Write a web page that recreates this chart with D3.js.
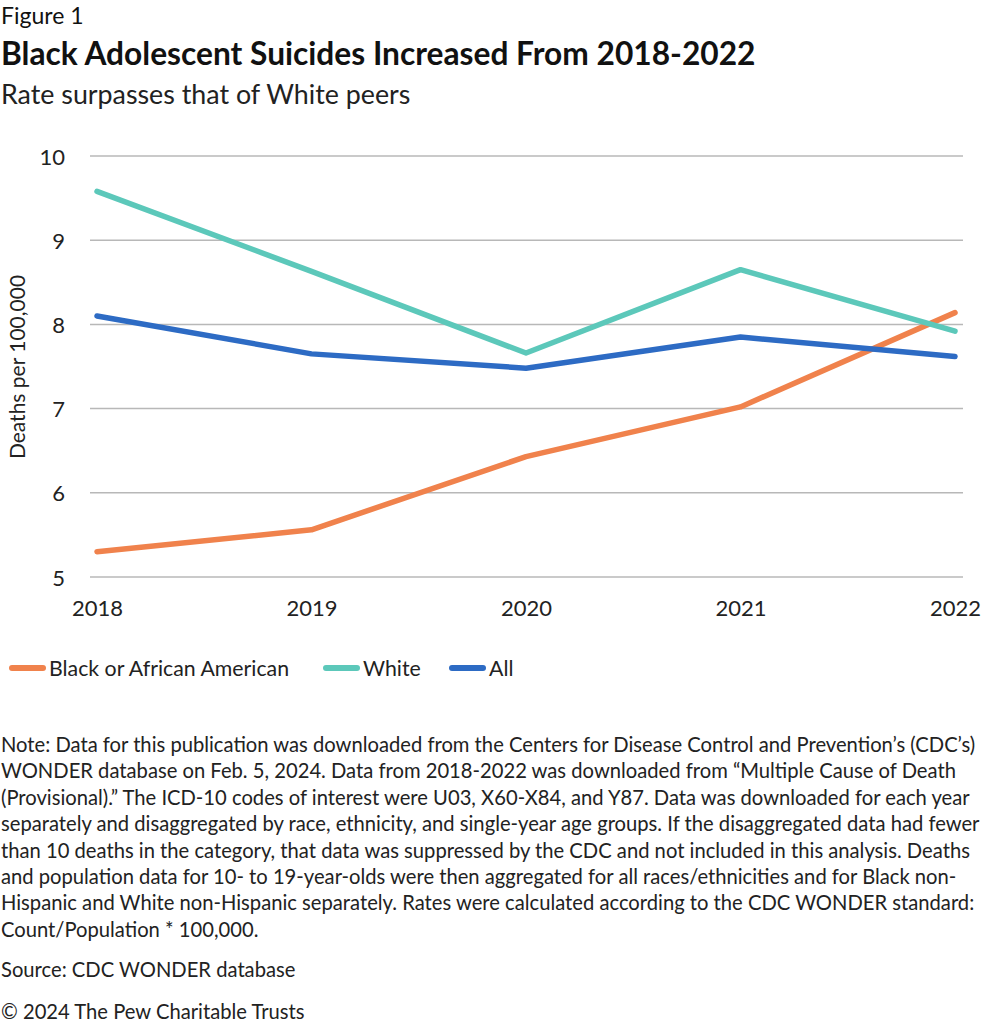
<!DOCTYPE html>
<html>
<head>
<meta charset="utf-8">
<script src="https://cdn.jsdelivr.net/npm/d3@7"></script>
<style>
  body { margin: 0; background: #fff; }
  svg { display: block; font-family: Lato, "Open Sans", sans-serif; }
</style>
</head>
<body>
<div id="chart-area"></div>
<script>
// values, deaths per 100,000
var years = ["2018", "2019", "2020", "2021", "2022"];
var black_rate = [5.30, 5.56, 6.43, 7.02, 8.14];
var white_rate = [9.58, 8.63, 7.66, 8.65, 7.92];
var all_rate = [8.10, 7.65, 7.48, 7.85, 7.62];
var y_ticks = [5, 6, 7, 8, 9, 10];
var series_names = ["Black or African American", "White", "All"];

var note_lines = [
	"Note: Data for this publication was downloaded from the Centers for Disease Control and Prevention\u2019s (CDC\u2019s)",
	"WONDER database on Feb. 5, 2024. Data from 2018-2022 was downloaded from \u201cMultiple Cause of Death",
	"(Provisional).\u201d The ICD-10 codes of interest were U03, X60-X84, and Y87. Data was downloaded for each year",
	"separately and disaggregated by race, ethnicity, and single-year age groups. If the disaggregated data had fewer",
	"than 10 deaths in the category, that data was suppressed by the CDC and not included in this analysis. Deaths",
	"and population data for 10- to 19-year-olds were then aggregated for all races/ethnicities and for Black non-",
	"Hispanic and White non-Hispanic separately. Rates were calculated according to the CDC WONDER standard:",
	"Count/Population * 100,000."
];

var width = 995, height = 1024;
var colors = ["#F0824C", "#5CC8BA", "#2D6BC4"];

var svg = d3.select("#chart-area").append("svg")
	.attr("width", width)
	.attr("height", height);

// headings
svg.append("text").attr("x", 1).attr("y", 24)
	.style("font-size", "23px").style("fill", "#111")
	.text("Figure 1");
svg.append("text").attr("x", 1).attr("y", 65)
	.style("font-size", "31.7px").style("font-weight", "bold").style("fill", "#111")
	.text("Black Adolescent Suicides Increased From 2018-2022");
svg.append("text").attr("x", 1).attr("y", 104)
	.style("font-size", "26.8px").style("fill", "#222")
	.text("Rate surpasses that of White peers");

// scales
var x = d3.scalePoint()
	.domain(years)
	.range([97, 955]);

var y = d3.scaleLinear()
	.domain([5, 10])
	.range([577, 156]);

// gridlines
svg.append("g")
	.selectAll("line")
	.data(y_ticks)
	.enter()
	.append("line")
		.attr("x1", 90)
		.attr("x2", 963)
		.attr("y1", function(d){ return y(d); })
		.attr("y2", function(d){ return y(d); })
		.style("stroke", "#B8B8B8")
		.style("stroke-width", 1.5);

// y axis labels
var yAxis = d3.axisLeft(y).tickValues(y_ticks).tickFormat(d3.format("d")).tickSize(0).tickPadding(0);
var gy = svg.append("g")
	.attr("transform", "translate(65,1)")
	.call(yAxis);
gy.select(".domain").remove();
gy.selectAll("text")
	.style("font-family", "Lato, sans-serif")
	.style("font-size", "22px")
	.style("fill", "#222");

// x axis labels
var xAxis = d3.axisBottom(x).tickSize(0).tickPadding(0);
var gx = svg.append("g")
	.attr("transform", "translate(0,600)")
	.call(xAxis);
gx.select(".domain").remove();
gx.selectAll("text")
	.style("font-family", "Lato, sans-serif")
	.style("font-size", "22px")
	.style("fill", "#222");

svg.append("text")
	.attr("transform", "translate(25,367) rotate(-90)")
	.attr("text-anchor", "middle")
	.style("font-size", "21px")
	.style("fill", "#222")
	.text("Deaths per 100,000");

// lines
var all_series = [black_rate, white_rate, all_rate];
var line = d3.line()
	.x(function(d, i){ return x(years[i]); })
	.y(function(d){ return y(d); });

svg.append("g")
	.selectAll("path")
	.data(all_series)
	.enter()
	.append("path")
		.attr("d", line)
		.style("fill", "none")
		.style("stroke", function(d, i){ return colors[i]; })
		.style("stroke-width", 5.5)
		.style("stroke-linecap", "round")
		.style("stroke-linejoin", "round");

// legend
var legend_x = [12, 326, 452];
var legend = svg.append("g")
	.selectAll("g")
	.data(series_names)
	.enter()
	.append("g")
		.attr("transform", function(d, i){ return "translate(" + legend_x[i] + ",668)"; });
legend.append("line")
	.attr("x1", 0).attr("x2", 31)
	.style("stroke", function(d, i){ return colors[i]; })
	.style("stroke-width", 6)
	.style("stroke-linecap", "round");
legend.append("text")
	.attr("x", 37)
	.attr("y", 7.5)
	.style("font-size", "21.3px")
	.style("fill", "#222")
	.text(function(d){ return d; });

// note + source
svg.append("g")
	.selectAll("text")
	.data(note_lines)
	.enter()
	.append("text")
		.attr("x", 1)
		.attr("y", function(d, i){ return 752 + i * 26.4; })
		.style("font-size", "20.2px")
		.style("fill", "#222")
		.text(function(d){ return d; });

svg.append("text").attr("x", 1).attr("y", 977)
	.style("font-size", "20.2px").style("fill", "#222")
	.text("Source: CDC WONDER database");
svg.append("text").attr("x", 1).attr("y", 1019)
	.style("font-size", "20.2px").style("fill", "#222")
	.text("\u00a9 2024 The Pew Charitable Trusts");
</script>
</body>
</html>
